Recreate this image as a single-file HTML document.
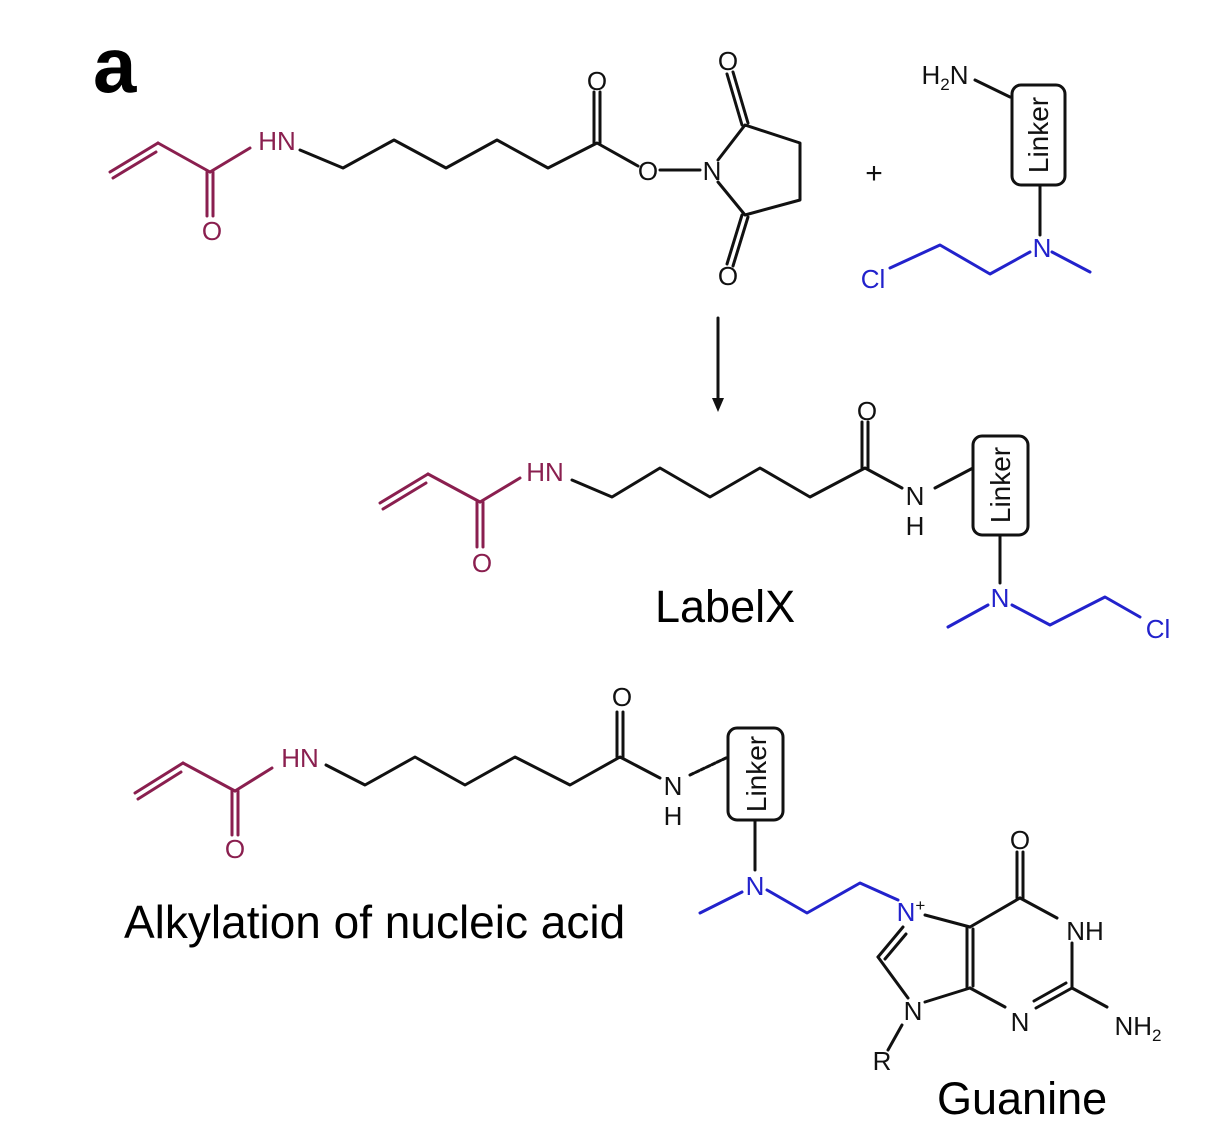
<!DOCTYPE html>
<html><head><meta charset="utf-8"><style>
html,body{margin:0;padding:0;background:#fff;}
svg{display:block;}
text{font-family:"Liberation Sans",sans-serif;}
</style></head><body>
<svg width="1219" height="1139" viewBox="0 0 1219 1139" xmlns="http://www.w3.org/2000/svg">
<g fill="none" stroke-width="3" stroke-linecap="round" stroke-linejoin="round">
<g stroke="#8a1f4f">
<line x1="110" y1="172" x2="158" y2="143"/><line x1="113" y1="178" x2="156" y2="152"/>
<line x1="158" y1="143" x2="210" y2="172"/>
<line x1="207" y1="172" x2="207" y2="216"/><line x1="213" y1="172" x2="213" y2="216"/>
<line x1="210" y1="172" x2="250" y2="148"/>
</g>
<g stroke="#111">
<polyline points="300,150 343,168 394,140 446,168 497,140 548,168 597,143 638,166"/>
<line x1="594" y1="143" x2="594" y2="92"/><line x1="600" y1="143" x2="600" y2="92"/>
<line x1="660" y1="170" x2="700" y2="170"/>
<polyline points="718,160 745,125 800,143 800,200 745,215 718,182"/>
<line x1="742" y1="125" x2="727" y2="74"/><line x1="748" y1="123" x2="733" y2="72"/>
<line x1="742" y1="215" x2="727" y2="264"/><line x1="748" y1="217" x2="733" y2="266"/>
<line x1="975" y1="80" x2="1010" y2="97"/>
<line x1="1040" y1="185" x2="1040" y2="235"/>
<line x1="718" y1="318" x2="718" y2="400"/>
</g>
<polygon points="712,398 724,398 718,412" fill="#111"/>
<g stroke="#2222cc">
<line x1="1052" y1="252" x2="1090" y2="272"/>
<polyline points="1030,252 990,274 940,245 890,268"/>
</g>
<g stroke="#8a1f4f">
<line x1="380" y1="503" x2="428" y2="474"/><line x1="383" y1="509" x2="426" y2="483"/>
<line x1="428" y1="474" x2="480" y2="502"/>
<line x1="477" y1="502" x2="477" y2="547"/><line x1="483" y1="502" x2="483" y2="547"/>
<line x1="480" y1="502" x2="520" y2="478"/>
</g>
<g stroke="#111">
<polyline points="572,480 612,497 660,468 710,497 760,468 810,497 865,468 902,488"/>
<line x1="862" y1="468" x2="862" y2="422"/><line x1="868" y1="468" x2="868" y2="422"/>
<line x1="935" y1="488" x2="973" y2="468"/>
<line x1="1000" y1="535" x2="1000" y2="583"/>
</g>
<g stroke="#2222cc">
<line x1="988" y1="605" x2="948" y2="627"/>
<polyline points="1012,605 1050,625 1105,597 1140,617"/>
</g>
<g stroke="#8a1f4f">
<line x1="135" y1="793" x2="183" y2="763"/><line x1="138" y1="799" x2="181" y2="772"/>
<line x1="183" y1="763" x2="235" y2="791"/>
<line x1="232" y1="791" x2="232" y2="835"/><line x1="238" y1="791" x2="238" y2="835"/>
<line x1="235" y1="791" x2="272" y2="768"/>
</g>
<g stroke="#111">
<polyline points="326,765 365,785 415,757 465,785 515,757 570,785 620,757 660,778"/>
<line x1="617" y1="757" x2="617" y2="712"/><line x1="623" y1="757" x2="623" y2="712"/>
<line x1="690" y1="775" x2="728" y2="757" stroke-dasharray="4 2"/>
<line x1="755" y1="820" x2="755" y2="870"/>
<line x1="925" y1="915" x2="970" y2="927"/>
<line x1="970" y1="927" x2="1020" y2="898"/>
<line x1="1017" y1="898" x2="1017" y2="852"/><line x1="1023" y1="898" x2="1023" y2="852"/>
<line x1="1020" y1="898" x2="1057" y2="918"/>
<line x1="1072" y1="943" x2="1072" y2="988"/>
<line x1="1072" y1="988" x2="1107" y2="1007"/>
<line x1="1072" y1="988" x2="1036" y2="1008"/><line x1="1066" y1="983" x2="1034" y2="1001"/>
<line x1="1005" y1="1007" x2="970" y2="988"/>
<line x1="967" y1="927" x2="967" y2="988"/><line x1="973" y1="929" x2="973" y2="986"/>
<line x1="970" y1="988" x2="925" y2="1002"/>
<line x1="908" y1="998" x2="878" y2="957"/>
<line x1="878" y1="957" x2="903" y2="927"/><line x1="885" y1="959" x2="906" y2="934"/>
<line x1="902" y1="1025" x2="888" y2="1050"/>
</g>
<g stroke="#2222cc">
<line x1="742" y1="892" x2="700" y2="913"/>
<polyline points="767,890 807,913 860,883 898,900"/>
</g>
</g>
<g fill="#fff" stroke="#111" stroke-width="3">
<rect x="1012" y="85" width="53" height="100" rx="9"/>
<rect x="973" y="436" width="55" height="99" rx="9"/>
<rect x="728" y="728" width="55" height="92" rx="9"/>
</g>
<g font-size="28" fill="#111" text-anchor="middle">
<text transform="translate(1048,135) rotate(-90)">Linker</text>
<text transform="translate(1010,485) rotate(-90)">Linker</text>
<text transform="translate(766,774) rotate(-90)">Linker</text>
</g>
<g font-size="26" text-anchor="middle">
<g fill="#8a1f4f">
<text x="277" y="150">HN</text><text x="212" y="240">O</text>
<text x="545" y="481">HN</text><text x="482" y="572">O</text>
<text x="300" y="767">HN</text><text x="235" y="858">O</text>
</g>
<g fill="#111">
<text x="597" y="90">O</text><text x="648" y="180">O</text><text x="712" y="180">N</text>
<text x="728" y="70">O</text><text x="728" y="285">O</text>
<text x="945" y="84">H<tspan font-size="17" dy="6">2</tspan><tspan dy="-6">N</tspan></text>
<text x="874" y="183" font-size="30">+</text>
<text x="867" y="420">O</text><text x="915" y="505">N</text><text x="915" y="535">H</text>
<text x="622" y="706">O</text><text x="673" y="795">N</text><text x="673" y="825">H</text>
<text x="1020" y="849">O</text><text x="1085" y="940">NH</text>
<text x="1020" y="1031">N</text><text x="913" y="1020">N</text>
<text x="1138" y="1035">NH<tspan font-size="17" dy="6">2</tspan></text>
<text x="882" y="1070">R</text>
</g>
<g fill="#2222cc">
<text x="1042" y="257">N</text><text x="873" y="288">Cl</text>
<text x="1000" y="607">N</text><text x="1158" y="638">Cl</text>
<text x="755" y="895">N</text><text x="911" y="921">N<tspan font-size="17" dy="-10" fill="#111">+</tspan></text>
</g>
</g>
<text x="93" y="92" font-size="78" font-weight="bold" fill="#000">a</text>
<text x="655" y="622" font-size="45" fill="#000">LabelX</text>
<text x="124" y="938" font-size="46" fill="#000">Alkylation of nucleic acid</text>
<text x="937" y="1114" font-size="45" fill="#000">Guanine</text>
</svg>
</body></html>
